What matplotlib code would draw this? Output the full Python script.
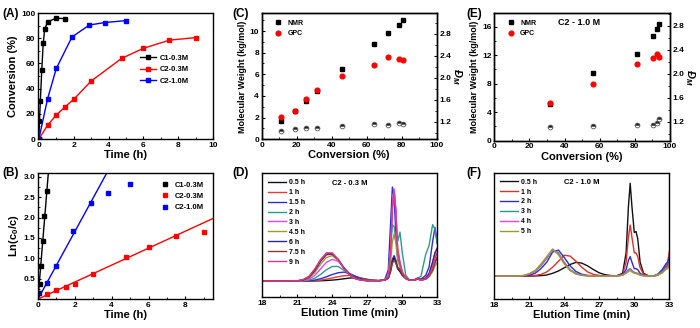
import numpy as np
import matplotlib
matplotlib.use("Agg")
import matplotlib.pyplot as plt
from matplotlib.ticker import AutoMinorLocator, MultipleLocator

plt.rcParams['font.family'] = ['Liberation Sans', 'DejaVu Sans']
plt.rcParams['font.weight'] = 'bold'
plt.rcParams['axes.labelweight'] = 'bold'
plt.rcParams['mathtext.default'] = 'regular'

# kinetics: time (h) and conversion (%)
t_c1_03 = [0, 0.033, 0.083, 0.167, 0.25, 0.333, 0.5, 1.0, 1.5]
conv_c1_03 = [0, 14, 30, 55, 76, 87, 93, 96, 95.5]
t_c2_03 = [0, 0.5, 1, 1.5, 2, 3, 4.75, 6, 7.5, 9]
conv_c2_03 = [0, 11, 19, 25.5, 31.5, 46, 64, 72, 78.5, 80.5]
t_c2_10 = [0, 0.5, 1, 1.9, 2.9, 3.8, 5]
conv_c2_10 = [0, 32, 56, 81, 90.5, 92.5, 94]

# points used for the first-order fits / shown in the ln plot
n_fit_c1 = 7
n_fit_c2_03 = 9
n_fit_c2_10 = 5
n_show_c1 = 7

# molecular weight vs conversion, C2-0.3M
mn_nmr_03 = [1.65, 2.65, 3.5, 4.5, 6.45, 8.8, 9.85, 10.6, 11.0]
mn_gpc_03 = [2.05, 2.6, 3.75, 4.55, 5.85, 6.9, 7.6, 7.4, 7.3]
disp_03 = [1.03, 1.06, 1.085, 1.085, 1.13, 1.15, 1.14, 1.18, 1.15]

# molecular weight vs conversion, C2-1.0M
mn_nmr_10 = [5.2, 9.45, 12.2, 14.7, 15.6, 16.3]
mn_gpc_10 = [5.3, 8.0, 10.7, 11.6, 12.1, 11.8]
disp_10 = [1.12, 1.13, 1.14, 1.15, 1.18, 1.24]

# GPC traces, C2-0.3M (normalised RI signal)
d_time = [18, 20, 21, 21.5, 22, 22.5, 23, 23.5, 24, 24.5, 25, 25.5, 26, 26.5, 27, 27.5,
          28, 28.5, 28.8, 29.0, 29.15, 29.3, 29.45, 29.6, 29.8, 30.0, 30.3, 30.6, 31.0,
          31.3, 31.6, 32.0, 32.3, 32.6, 32.8, 33.0]
d_labels = ['0.5 h', '1 h', '1.5 h', '2 h', '3 h', '4.5 h', '6 h', '7.5 h', '9 h']
d_colors = ['#111111', '#e0403a', '#2b2bd8', '#2e9a8c', '#f040f0', '#9c9c2a',
            '#2a2a8a', '#8a3838', '#e0358a']
d_traces = [
    [0, 0, 0, 0, 0, 0.001, 0.003, 0.006, 0.01, 0.016, 0.024, 0.032, 0.035, 0.03, 0.018, 0.008,
     0.004, 0.01, 0.03, 0.11, 0.21, 0.25, 0.2, 0.13, 0.1, 0.06, 0.025, 0.01, 0.008,
     0.025, 0.012, 0.02, 0.05, 0.12, 0.2, 0.25],
    [0, 0, 0, 0, 0.001, 0.004, 0.01, 0.02, 0.033, 0.046, 0.056, 0.06, 0.05, 0.03, 0.012, 0.006,
     0.004, 0.01, 0.05, 0.32, 0.78, 0.97, 0.76, 0.35, 0.2, 0.1, 0.03, 0.01, 0.01,
     0.03, 0.015, 0.03, 0.08, 0.2, 0.3, 0.35],
    [0, 0, 0, 0, 0.003, 0.01, 0.025, 0.045, 0.07, 0.088, 0.095, 0.08, 0.05, 0.022, 0.008, 0.005,
     0.004, 0.015, 0.12, 0.62, 1.0, 0.9, 0.5, 0.25, 0.17, 0.08, 0.03, 0.01, 0.01,
     0.02, 0.02, 0.06, 0.15, 0.42, 0.57, 0.4],
    [0, 0, 0, 0.003, 0.01, 0.03, 0.07, 0.12, 0.155, 0.155, 0.115, 0.065, 0.03, 0.012, 0.005, 0.005,
     0.004, 0.01, 0.06, 0.35, 0.6, 0.58, 0.42, 0.42, 0.52, 0.3, 0.06, 0.015, 0.01,
     0.03, 0.05, 0.28, 0.38, 0.6, 0.55, 0.4],
    [0, 0, 0.001, 0.005, 0.02, 0.06, 0.13, 0.2, 0.23, 0.21, 0.14, 0.075, 0.03, 0.012, 0.005, 0.005,
     0.004, 0.01, 0.05, 0.34, 0.8, 0.98, 0.74, 0.34, 0.19, 0.09, 0.03, 0.01, 0.01,
     0.03, 0.015, 0.03, 0.07, 0.16, 0.26, 0.3],
    [0, 0, 0.001, 0.008, 0.03, 0.09, 0.18, 0.25, 0.27, 0.22, 0.14, 0.07, 0.028, 0.01, 0.004, 0.005,
     0.004, 0.01, 0.04, 0.2, 0.42, 0.5, 0.4, 0.22, 0.15, 0.08, 0.03, 0.01, 0.008,
     0.02, 0.01, 0.02, 0.05, 0.1, 0.16, 0.2],
    [0, 0, 0.002, 0.011, 0.04, 0.11, 0.21, 0.28, 0.285, 0.23, 0.14, 0.07, 0.027, 0.01, 0.004, 0.005,
     0.004, 0.01, 0.03, 0.12, 0.23, 0.27, 0.22, 0.15, 0.12, 0.07, 0.03, 0.01, 0.01,
     0.03, 0.015, 0.03, 0.08, 0.2, 0.3, 0.35],
    [0, 0, 0.002, 0.013, 0.045, 0.12, 0.22, 0.29, 0.29, 0.23, 0.135, 0.065, 0.025, 0.009, 0.004, 0.005,
     0.004, 0.01, 0.03, 0.1, 0.19, 0.22, 0.19, 0.14, 0.12, 0.07, 0.03, 0.01, 0.008,
     0.02, 0.01, 0.02, 0.05, 0.12, 0.2, 0.25],
    [0, 0, 0.003, 0.016, 0.05, 0.13, 0.23, 0.3, 0.3, 0.23, 0.13, 0.06, 0.022, 0.008, 0.004, 0.005,
     0.004, 0.01, 0.05, 0.33, 0.76, 0.95, 0.72, 0.33, 0.18, 0.09, 0.03, 0.01, 0.008,
     0.025, 0.01, 0.02, 0.06, 0.15, 0.24, 0.3],
]

# GPC traces, C2-1.0M
f_time = [18, 20, 20.5, 21, 21.5, 22, 22.5, 23, 23.5, 24, 24.5, 25, 25.5, 26, 26.5, 27, 27.5,
          28, 28.5, 29.0, 29.3, 29.5, 29.65, 29.8, 30.0, 30.15, 30.3, 30.5, 30.8, 31.2,
          31.6, 32.0, 32.4, 32.7, 32.85, 33.0]
f_labels = ['0.5 h', '1 h', '2 h', '3 h', '4 h', '5 h']
f_colors = ['#111111', '#e0302a', '#2b2bd8', '#2e9a8c', '#f040f0', '#9c9c2a']
f_traces = [
    [0, 0, 0, 0, 0.002, 0.005, 0.012, 0.03, 0.055, 0.09, 0.125, 0.148, 0.14, 0.11, 0.07, 0.035, 0.015,
     0.006, 0.004, 0.03, 0.25, 0.75, 1.0, 0.75, 0.47, 0.48, 0.4, 0.15, 0.03, 0.005,
     0.0, 0.01, 0.05, 0.1, 0.12, 0.15],
    [0, 0, 0, 0.002, 0.006, 0.018, 0.045, 0.095, 0.16, 0.225, 0.215, 0.16, 0.095, 0.045, 0.018, 0.007, 0.003,
     0.002, 0.003, 0.02, 0.15, 0.42, 0.55, 0.42, 0.25, 0.25, 0.21, 0.09, 0.02, 0.004,
     0.0, 0.01, 0.04, 0.1, 0.14, 0.26],
    [0, 0, 0.002, 0.01, 0.03, 0.08, 0.15, 0.26, 0.28, 0.2, 0.11, 0.05, 0.02, 0.008, 0.003, 0.001, 0,
     0, 0.002, 0.015, 0.07, 0.17, 0.21, 0.15, 0.08, 0.08, 0.07, 0.03, 0.008, 0.002,
     0.0, 0.02, 0.07, 0.13, 0.15, 0.2],
    [0, 0, 0.004, 0.02, 0.05, 0.11, 0.19, 0.285, 0.25, 0.15, 0.07, 0.03, 0.01, 0.004, 0.001, 0, 0,
     0, 0.001, 0.01, 0.04, 0.07, 0.08, 0.06, 0.04, 0.035, 0.03, 0.015, 0.005, 0.001,
     0, 0.015, 0.05, 0.09, 0.1, 0.15],
    [0, 0, 0.005, 0.022, 0.055, 0.12, 0.2, 0.29, 0.24, 0.14, 0.065, 0.025, 0.009, 0.003, 0.001, 0, 0,
     0, 0.001, 0.01, 0.035, 0.06, 0.07, 0.055, 0.035, 0.03, 0.025, 0.012, 0.004, 0.001,
     0, 0.012, 0.04, 0.08, 0.09, 0.13],
    [0, 0.001, 0.007, 0.027, 0.06, 0.13, 0.21, 0.29, 0.23, 0.13, 0.06, 0.022, 0.008, 0.003, 0.001, 0, 0,
     0, 0.001, 0.01, 0.03, 0.05, 0.06, 0.045, 0.03, 0.028, 0.022, 0.01, 0.003, 0.001,
     0, 0.01, 0.035, 0.07, 0.08, 0.12],
]

TICK = 6
LAB = 8


def style(ax, minor=True):
    for s in ax.spines.values():
        s.set_linewidth(1.0)
    ax.tick_params(direction='in', length=2.5, width=0.8, labelsize=TICK, pad=2)
    ax.tick_params(which='minor', direction='in', length=1.5, width=0.6)
    if minor:
        ax.xaxis.set_minor_locator(AutoMinorLocator(2))
        ax.yaxis.set_minor_locator(AutoMinorLocator(2))
    for lab in ax.get_xticklabels() + ax.get_yticklabels():
        lab.set_fontweight('bold')


fig = plt.figure(figsize=(7.0, 3.28), dpi=100)

# (A) conversion vs time
axA = fig.add_axes([0.0543, 0.5762, 0.25, 0.384])
axA.plot(t_c1_03, conv_c1_03, '-s', color='black', ms=3, lw=1, label='C1-0.3M')
axA.plot(t_c2_03, conv_c2_03, '-s', color='red', ms=3, lw=1, label='C2-0.3M')
axA.plot(t_c2_10, conv_c2_10, '-s', color='blue', ms=3, lw=1, label='C2-1.0M')
axA.set_xlim(-0.05, 10)
axA.set_ylim(0, 100)
axA.set_xticks([0, 2, 4, 6, 8, 10])
axA.set_yticks([0, 20, 40, 60, 80, 100])
axA.set_xlabel('Time (h)', fontsize=LAB, labelpad=1)
axA.set_ylabel('Conversion (%)', fontsize=LAB, labelpad=2)
axA.legend(loc='center left', bbox_to_anchor=(0.55, 0.55), frameon=False,
           prop={'size': 5.5, 'weight': 'bold'}, handlelength=2.2, labelspacing=0.55,
           borderpad=0.2, handletextpad=0.5)
style(axA)

# (B) first-order plot
axB = fig.add_axes([0.0543, 0.0884, 0.25, 0.385])
fits = [(t_c1_03, conv_c1_03, n_fit_c1, n_show_c1, 'black', 'C1-0.3M'),
        (t_c2_03, conv_c2_03, n_fit_c2_03, len(t_c2_03), 'red', 'C2-0.3M'),
        (t_c2_10, conv_c2_10, n_fit_c2_10, len(t_c2_10), 'blue', 'C2-1.0M')]
xline = np.linspace(0, 9.5, 50)
for t, conv, n, nshow, col, lab in fits:
    t = np.array(t, dtype=float)
    lnr = np.log(100.0 / (100.0 - np.array(conv, dtype=float)))
    k = np.sum(t[:n] * lnr[:n]) / np.sum(t[:n] ** 2)
    axB.plot(xline, k * xline, '-', color=col, lw=1)
    axB.plot(t[1:nshow], lnr[1:nshow], 's', color=col, ms=3, ls='none', label=lab)
axB.set_xlim(0, 9.5)
axB.set_ylim(0, 3.1)
axB.set_xticks([0, 2, 4, 6, 8])
axB.set_yticks([0.5, 1.0, 1.5, 2.0, 2.5, 3.0])
axB.set_xlabel('Time (h)', fontsize=LAB, labelpad=1)
axB.set_ylabel('Ln(c$_0$/c)', fontsize=LAB, labelpad=2)
axB.legend(loc='upper right', frameon=False, prop={'size': 5.5, 'weight': 'bold'},
           handlelength=1.0, labelspacing=0.5, borderpad=0.5, handletextpad=0.8,
           bbox_to_anchor=(0.99, 0.99))
style(axB)


def mw_panel(rect, conv, nmr, gpc, disp, ylim, yticks, rlim, tag=None):
    ax = fig.add_axes(rect)
    ax.plot(conv, nmr, 's', color='black', ms=3.2, label='NMR')
    ax.plot(conv, gpc, 'o', color='red', ms=3.4, label='GPC')
    ax.set_xlim(0, 100)
    ax.set_ylim(*ylim)
    ax.set_xticks([0, 20, 40, 60, 80, 100])
    ax.set_yticks(yticks)
    ax.set_xlabel('Conversion (%)', fontsize=LAB, labelpad=1)
    ax.set_ylabel('Molecular Weight (kg/mol)', fontsize=6.5, labelpad=2)
    ax.legend(loc='upper left', frameon=False, prop={'size': 5, 'weight': 'bold'},
              handlelength=1.0, labelspacing=0.5, borderpad=0.4, handletextpad=0.8,
              bbox_to_anchor=(0.04, 1.0))
    style(ax)
    axr = ax.twinx()
    axr.plot(conv, disp, 'o', ms=3.4, fillstyle='top', markerfacecolor='#222222',
             markerfacecoloralt='white', markeredgecolor='#555555', markeredgewidth=0.6)
    axr.set_ylim(*rlim)
    axr.set_yticks([1.2, 1.6, 2.0, 2.4, 2.8])
    axr.set_ylabel('Đ$_M$', fontsize=LAB, rotation=270, labelpad=9, style='italic')
    style(axr)
    ax.tick_params(right=False)
    if tag:
        ax.text(0.36, 0.93, tag, transform=ax.transAxes, fontsize=6.5,
                fontweight='bold', va='center')
    return ax


# (C) and (E) molecular weight vs conversion
mw_panel([0.3739, 0.5753, 0.25, 0.384], conv_c2_03[1:], mn_nmr_03, mn_gpc_03, disp_03,
         (0, 11.63), [0, 2, 4, 6, 8, 10], (0.879, 3.17))
mw_panel([0.7061, 0.571, 0.251, 0.388], conv_c2_10[1:], mn_nmr_10, mn_gpc_10, disp_10,
         (0, 17.85), [0, 4, 8, 12, 16], (0.883, 3.006), tag='C2 - 1.0 M')


def gpc_panel(rect, x, traces, labels, colors, ylim, tag):
    ax = fig.add_axes(rect)
    for y, lab, col in zip(traces, labels, colors):
        ax.plot(x, y, '-', color=col, lw=1.0, label=lab)
    ax.set_xlim(18, 33)
    ax.set_ylim(*ylim)
    ax.set_xticks([18, 21, 24, 27, 30, 33])
    ax.xaxis.set_minor_locator(MultipleLocator(1.5))
    ax.set_yticks([])
    ax.set_xlabel('Elution Time (min)', fontsize=LAB, labelpad=1)
    ax.legend(loc='upper left', frameon=False, prop={'size': 5, 'weight': 'bold'},
              handlelength=2.6, labelspacing=0.42, borderpad=0.35, handletextpad=0.4)
    ax.text(0.40, 0.92, tag, transform=ax.transAxes, fontsize=5.5,
            fontweight='bold', va='center')
    style(ax, minor=False)
    return ax


# (D) and (F) GPC traces
gpc_panel([0.3747, 0.0936, 0.25, 0.378], d_time, d_traces, d_labels, d_colors,
          (-0.173, 1.146), 'C2 - 0.3 M')
gpc_panel([0.7061, 0.0875, 0.25, 0.386], f_time, f_traces, f_labels, f_colors,
          (-0.25, 1.114), 'C2 - 1.0 M')

for lab, x, y in [('(A)', 0.003, 0.975), ('(B)', 0.003, 0.49), ('(C)', 0.332, 0.975),
                  ('(D)', 0.332, 0.49), ('(E)', 0.666, 0.975), ('(F)', 0.666, 0.49)]:
    fig.text(x, y, lab, fontsize=8.5, fontweight='bold', va='top')

fig.savefig('out.png', dpi=100)
